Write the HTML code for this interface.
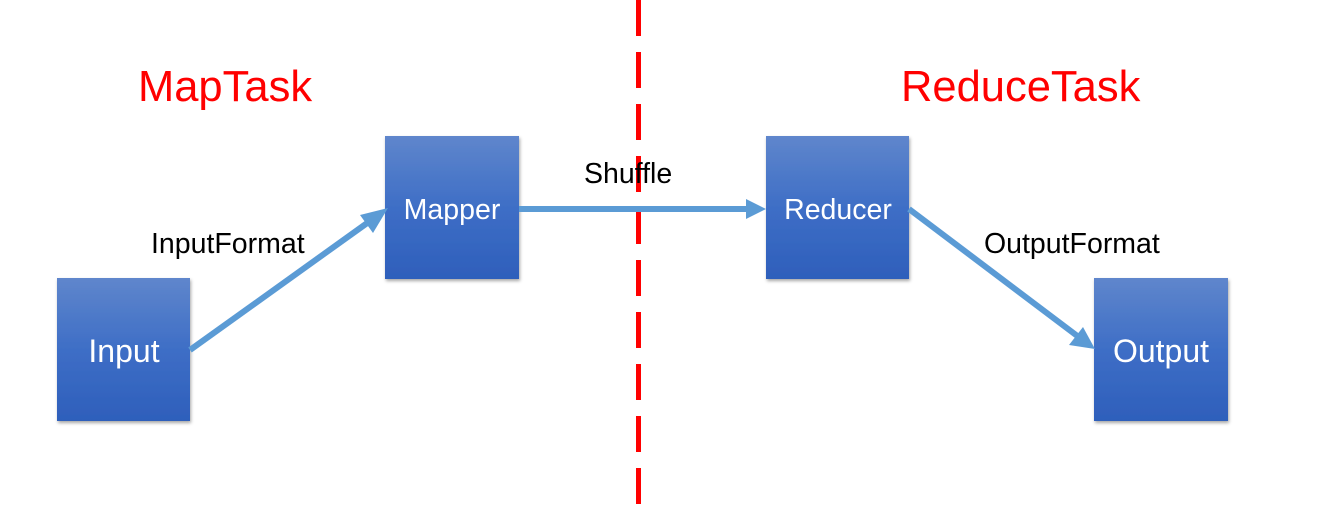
<!DOCTYPE html>
<html><head><meta charset="utf-8"><style>
html,body{margin:0;padding:0;background:#fff;}
svg{display:block;}
</style></head><body>
<svg width="1324" height="515" viewBox="0 0 1324 515" xmlns="http://www.w3.org/2000/svg" font-family="Liberation Sans, Arial, sans-serif">
<defs>
<linearGradient id="g" x1="0" y1="0" x2="0" y2="1">
<stop offset="0" stop-color="#5f86cc"/><stop offset="0.5" stop-color="#3e6ec6"/><stop offset="1" stop-color="#2e5fbb"/>
</linearGradient>
<filter id="s" x="-10%" y="-10%" width="130%" height="130%"><feDropShadow dx="1" dy="2" stdDeviation="1.5" flood-color="#000" flood-opacity="0.35"/></filter>
</defs>
<line x1="638.5" y1="0" x2="638.5" y2="515" stroke="#ff0000" stroke-width="5" stroke-dasharray="36 16"/>
<text x="138" y="101" font-size="43.5" fill="#ff0000">MapTask</text>
<text x="901" y="101" font-size="43.5" fill="#ff0000">ReduceTask</text>
<g filter="url(#s)">
<rect x="57" y="278" width="133" height="143" fill="url(#g)"/>
<rect x="385" y="136" width="134" height="143" fill="url(#g)"/>
<rect x="766" y="136" width="143" height="143" fill="url(#g)"/>
<rect x="1094" y="278" width="134" height="143" fill="url(#g)"/>
</g>
<g fill="#fff" font-size="32" text-anchor="middle">
<text x="124" y="362">Input</text>
<text x="1161" y="362">Output</text>
</g>
<g fill="#fff" font-size="28.5" text-anchor="middle">
<text x="452" y="219">Mapper</text>
<text x="838" y="219">Reducer</text>
</g>
<g stroke="#5b9bd5" stroke-width="6" fill="none">
<line x1="190" y1="350" x2="370" y2="221"/>
<line x1="519" y1="209" x2="748" y2="209"/>
<line x1="909" y1="209" x2="1080" y2="338"/>
</g>
<g fill="#5b9bd5">
<polygon points="388,208 373,233 360,215"/>
<polygon points="766,209 746,199 746,219"/>
<polygon points="1095,349 1069,345 1083,327"/>
</g>
<g fill="#000" font-size="28.5">
<text x="151" y="253">InputFormat</text>
<text x="584" y="183">Shuffle</text>
<text x="984" y="253">OutputFormat</text>
</g>
</svg>
</body></html>
